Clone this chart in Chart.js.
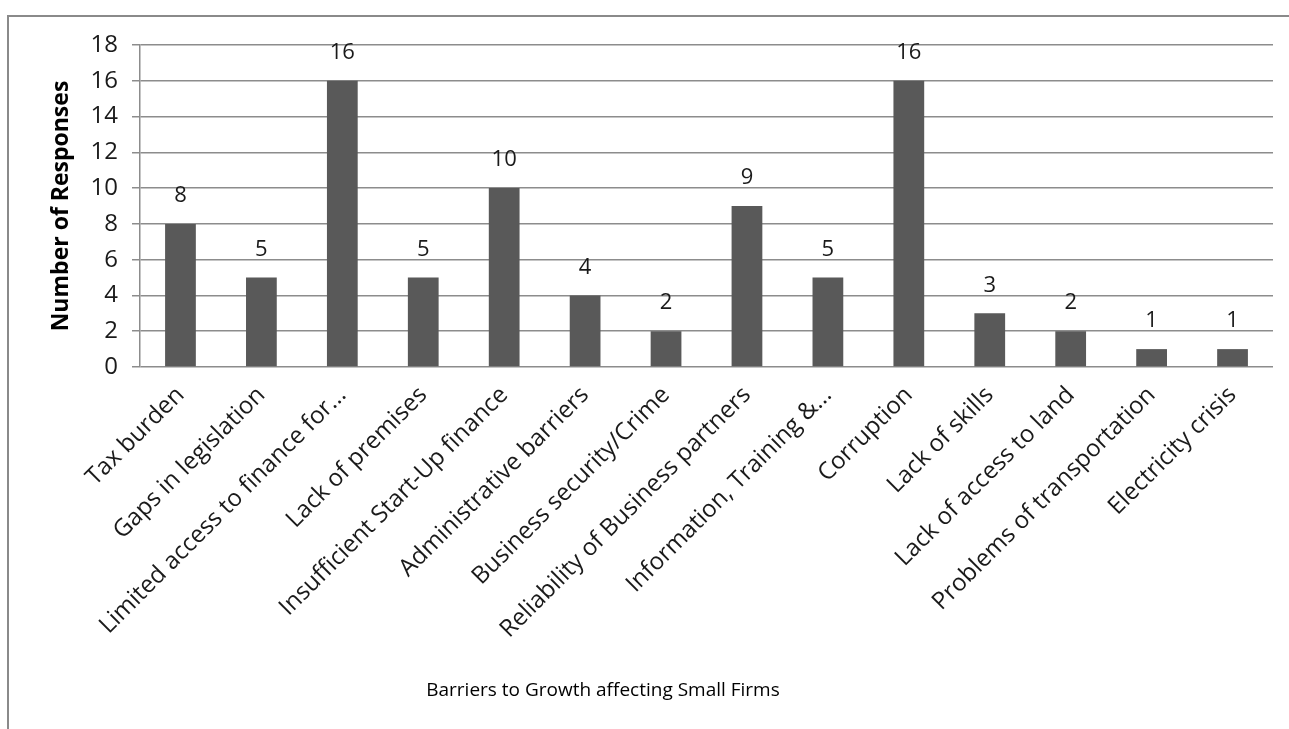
<!DOCTYPE html>
<html>
<head>
<meta charset="utf-8">
<script src="https://cdn.jsdelivr.net/npm/chart.js@4"></script>
<style>
  html, body { margin: 0; padding: 0; background: #fff; }
  #wrap { width: 1289px; height: 729px; }
</style>
</head>
<body>
<div id="wrap"><canvas id="grafica" width="1289" height="729"></canvas></div>
<script>
// datos del grafico
var categorias = [
  'Tax burden', 'Gaps in legislation', 'Limited access to finance for...',
  'Lack of premises', 'Insufficient Start-Up finance', 'Administrative barriers',
  'Business security/Crime', 'Reliability of Business partners',
  'Information, Training &...', 'Corruption', 'Lack of skills',
  'Lack of access to land', 'Problems of transportation', 'Electricity crisis'
];
var respuestas = [8, 5, 16, 5, 10, 4, 2, 9, 5, 16, 3, 2, 1, 1];
var tituloX = 'Barriers to Growth affecting Small Firms';
var tituloY = 'Number of Responses';

var fuente = "'Open Sans', 'DejaVu Sans', sans-serif";

// marco del grafico y etiquetas de valores
var pluginExtras = {
  id: 'extras',
  beforeDraw: function (chart) {
    var c = chart.ctx;
    c.save();
    c.strokeStyle = '#8a8a8a';
    c.lineWidth = 2;
    c.beginPath();
    c.moveTo(8, 729);
    c.lineTo(8, 16);
    c.lineTo(1289, 16);
    c.stroke();
    c.restore();
  },
  afterDraw: function (chart) {
    var c = chart.ctx;
    var meta = chart.getDatasetMeta(0);
    c.save();
    c.fillStyle = '#1a1a1a';
    c.font = '22px ' + fuente;
    c.textAlign = 'center';
    c.textBaseline = 'middle';
    meta.data.forEach(function (barra, i) {
      c.fillText(respuestas[i], barra.x, barra.y - 28);
    });
    // titulo del eje x
    c.font = '19px ' + fuente;
    c.fillStyle = '#000';
    c.fillText(tituloX, 603, 691);
    c.restore();
  }
};

var ctx = document.getElementById('grafica').getContext('2d');
var grafica = new Chart(ctx, {
  type: 'bar',
  data: {
    labels: categorias,
    datasets: [{
      data: respuestas,
      backgroundColor: '#595959',
      borderWidth: 0,
      categoryPercentage: 1,
      barPercentage: 0.38
    }]
  },
  options: {
    responsive: false,
    animation: false,
    layout: { padding: { left: 48, right: 16, top: 45, bottom: 0 } },
    plugins: {
      legend: { display: false },
      tooltip: { enabled: false }
    },
    scales: {
      x: {
        grid: { display: false, drawTicks: false },
        border: { display: false },
        ticks: {
          autoSkip: false,
          maxRotation: 45,
          minRotation: 45,
          padding: 14,
          color: '#1a1a1a',
          font: { family: fuente, size: 24 }
        },
        afterFit: function (s) { s.height = 362; }
      },
      y: {
        min: 0,
        max: 18,
        ticks: {
          stepSize: 2,
          padding: 14,
          color: '#1a1a1a',
          font: { family: fuente, size: 24 }
        },
        grid: { color: '#8c8c8c', lineWidth: 1.5, tickLength: 8 },
        border: { color: '#8c8c8c', width: 1.5 },
        title: {
          display: true,
          text: tituloY,
          color: '#000',
          font: { family: fuente, size: 23, weight: 'bold' },
          padding: 0
        },
        afterFit: function (s) { s.width = 92; }
      }
    }
  },
  plugins: [pluginExtras]
});
</script>
</body>
</html>
